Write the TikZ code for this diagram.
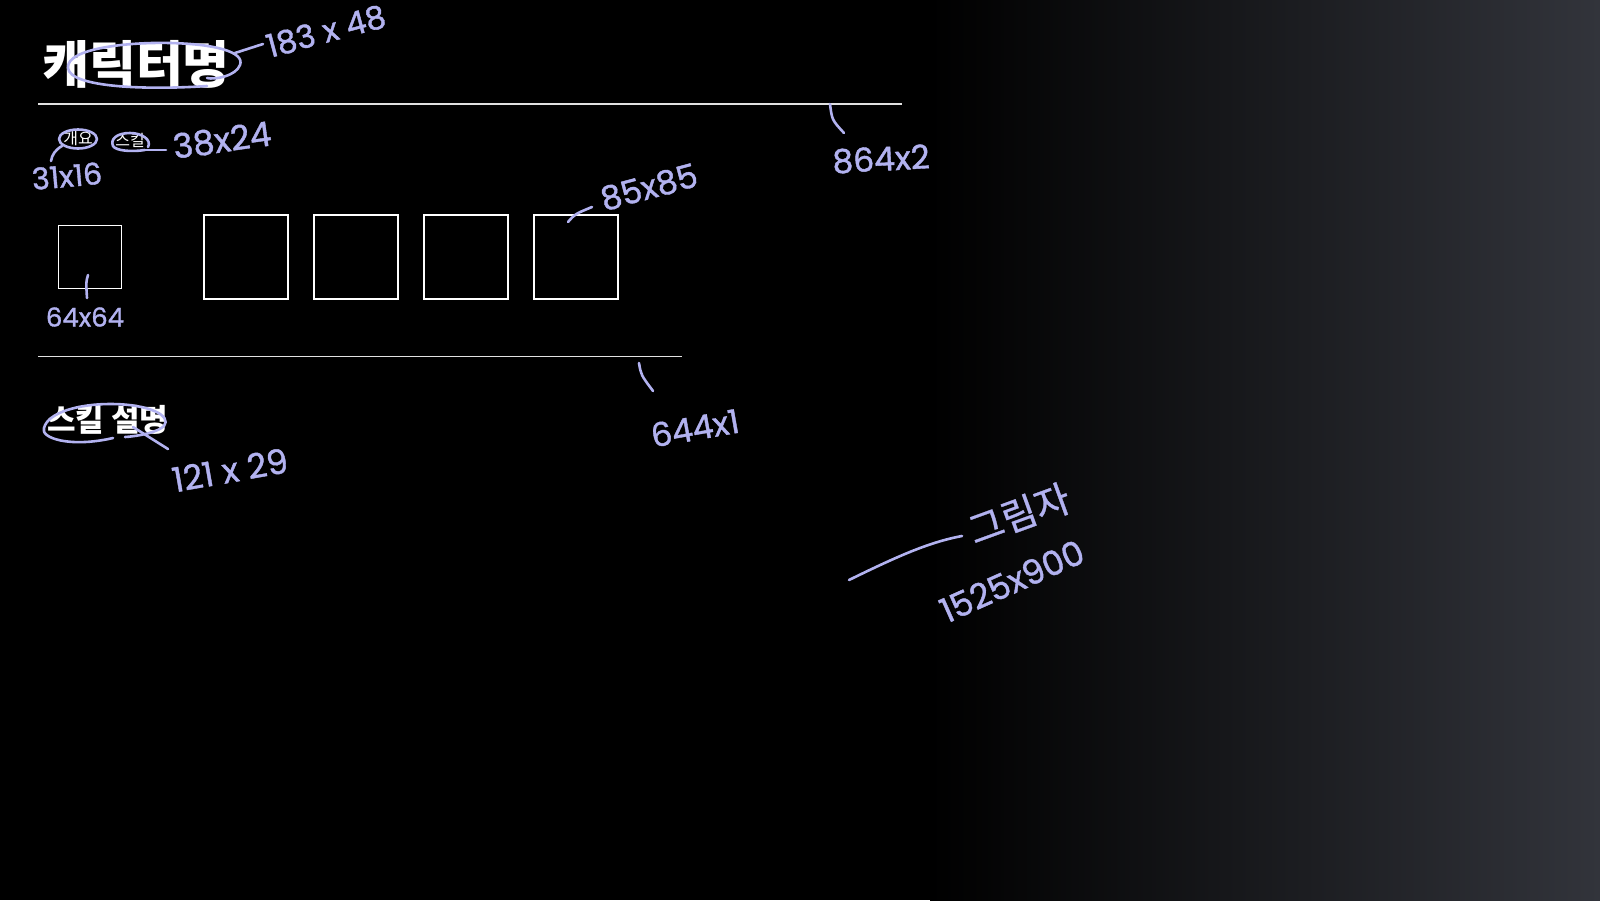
\documentclass[tikz,border=0pt]{standalone}
\usepackage{fontspec}
\setmainfont{Liberation Sans}
\newfontfamily\kr{Noto Sans CJK KR}
\newfontfamily\hand{Poppins}[FakeBold=1.2]
\newfontfamily\handkr{Noto Sans CJK KR}[FakeBold=0.8]
\definecolor{hand}{RGB}{178,178,240}
\definecolor{bgR}{RGB}{50,52,59}
\definecolor{rulec}{RGB}{225,225,225}
\newcommand{\hs}[1]{\hand\fontsize{#1}{#1}\selectfont}
\begin{document}
\begin{tikzpicture}[x=1pt,y=-1pt,
  ann/.style={text=hand, font=\hs{33}, inner sep=0pt},
  annkr/.style={text=hand, font=\handkr\fontsize{38}{38}\selectfont, inner sep=0pt},
  stroke/.style={draw=hand, line width=2.6pt, line cap=round, line join=round},
  slot/.style={draw=white, line width=1.8pt, fill=black, minimum size=84pt, inner sep=0pt, anchor=north west},
  rule/.style={draw=rulec},
  tab/.style={text=white, font=\kr\fontsize{16}{16}\selectfont, inner sep=0pt},
]
\useasboundingbox (0,0) rectangle (1600,900);
\fill[black] (0,0) rectangle (1600,900);
\shade[left color=black, right color=bgR] (930,0) rectangle (1600,900);

% UI content
\node[anchor=west, inner sep=0pt, text=white, font=\kr\bfseries\fontsize{51}{51}\selectfont] (title) at (42,64) {캐릭터명};
\draw[rule, line width=1.4pt] (38,104) coordinate (r1a) -- (902,104) coordinate (r1b);
\node[tab] (tab1) at (78,139) {개요};
\node[tab] (tab2) at (130,140) {스킬};
\node[draw=white, line width=1.4pt, fill=black, minimum size=63pt, inner sep=0pt, anchor=north west] (icon) at (58,225) {};
\node[slot] (s1) at (203,214) {};
\node[slot] (s2) at (313,214) {};
\node[slot] (s3) at (423,214) {};
\node[slot] (s4) at (533,214) {};
\draw[rule, line width=1pt] (38,356) coordinate (r2a) -- (682,356) coordinate (r2b);
\node[anchor=west, inner sep=0pt, text=white, font=\kr\bfseries\fontsize{31}{31}\selectfont] (desc) at (47,420) {스킬 설명};

% annotations
\draw[stroke] (207,86) .. controls (150,90) and (70,88) .. (68,68)
  .. controls (66,48) and (130,42) .. (170,43)
  .. controls (215,44) and (245,52) .. (240,65)
  .. controls (236,76) and (215,80) .. (207,78);
\coordinate (t1) at (235,53);
\coordinate (t1e) at (263,44);
\node[ann, font=\hs{32}, rotate=15] (l183) at (326,31) {183 x 48};
\draw[stroke] (t1) -- (t1e);

\draw[stroke] (tab1) ellipse (19pt and 9.5pt);
\coordinate (t2) at (62,146);
\coordinate (t2e) at (51,161);
\node[ann, font=\hs{30}, rotate=5] (l31) at (67,176) {31x16};
\draw[stroke] (t2) .. controls (55,150) and (52,155) .. (t2e);

\draw[stroke] (148,147) .. controls (152,140) and (142,133) .. (130,133)
  .. controls (117,133) and (110,139) .. (113,146)
  .. controls (116,151) and (132,152) .. (145,150);
\coordinate (t9) at (145,150);
\coordinate (t9e) at (166,150);
\node[ann, font=\hs{34}, rotate=8] (l38) at (222,140) {38x24};
\draw[stroke] (t9) -- (t9e);

\coordinate (t3) at (88,275);
\node[ann, font=\hs{26}] (l64) at (85,317) {64x64};
\draw[stroke] (t3) .. controls (86,282) .. (87,298);

\coordinate (t4) at (568,222);
\node[ann, rotate=15] (l85) at (649,187) {85x85};
\draw[stroke] (t4) .. controls (575,214) .. (592,207);

\coordinate (t5) at (830,104);
\node[ann, rotate=3] (l864) at (881,159) {864x2};
\draw[stroke] (t5) .. controls (832,120) .. (844,133);

\coordinate (t6) at (639,363);
\node[ann, rotate=10] (l644) at (695,428) {644x1};
\draw[stroke] (t6) .. controls (641,375) .. (653,391);

\draw[stroke] (113,438) .. controls (70,448) and (40,438) .. (44,428)
  .. controls (48,412) and (80,404) .. (110,404)
  .. controls (150,404) and (172,416) .. (164,426)
  .. controls (158,432) and (140,436) .. (125,437);
\coordinate (t7) at (133,427);
\coordinate (t7e) at (168,449);
\draw[stroke] (t7) -- (t7e);
\node[ann, font=\hs{34}, rotate=10] (l121) at (230,470) {121 x 29};

\coordinate (t8) at (849,580);
\coordinate (t8e) at (962,536);
\node[annkr, rotate=20] (shadow) at (1019,514) {그림자};
\node[ann, font=\hs{34}, rotate=24] (l1525) at (1012,581) {1525x900};
\draw[stroke] (t8) .. controls (900,555) and (930,542) .. (t8e);
\end{tikzpicture}
\end{document}
